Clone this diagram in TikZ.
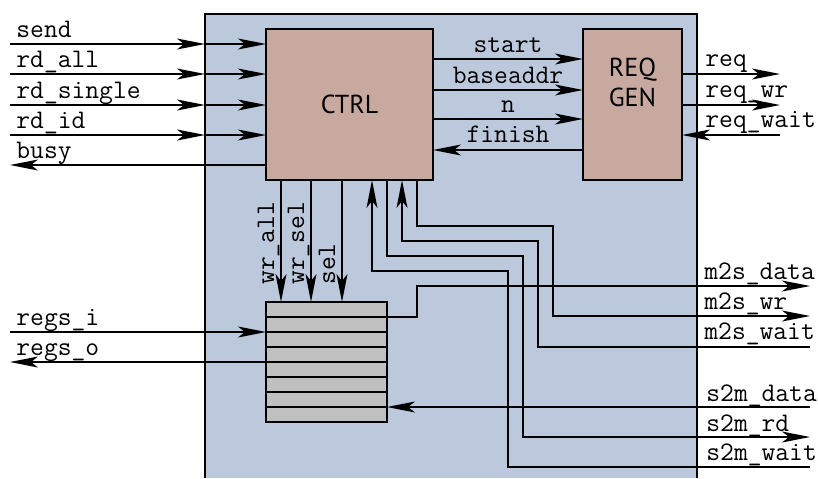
\documentclass[tikz,border=0pt]{standalone}
\usepackage{fontspec}
\newfontfamily\blockfont{PT Sans}
\usetikzlibrary{arrows.meta}
\definecolor{devblue}{RGB}{188,200,219}
\definecolor{blockbrown}{RGB}{200,169,160}
\definecolor{reggray}{RGB}{192,192,192}
\tikzset{
  wire/.style={line width=0.65pt},
  sig/.style={wire, -{Stealth[length=14pt,width=5.5pt,inset=3.5pt]}},
  lbl/.style={font=\fontsize{13.4}{15}\selectfont\ttfamily, inner sep=0pt, anchor=base west},
  midlbl/.style={lbl, anchor=base},
  blocktext/.style={font=\blockfont\fontsize{13}{15}\selectfont},
  block/.style={draw, line width=0.65pt, fill=blockbrown, inner sep=0pt, outer sep=0pt, blocktext},
  regfile/.style={draw, line width=0.65pt, fill=reggray, inner sep=0pt, outer sep=0pt},
}
\begin{document}
\begin{tikzpicture}[x=0.5pt,y=-0.5pt]
\useasboundingbox (0,0) rectangle (818,478);

% device outline (open at the bottom)
\fill[devblue] (205,14) rectangle (697,478);
\draw[wire] (205,478) -- (205,14) -- (697,14) -- (697,478);

% blocks
\node[block, minimum width=83.5pt, minimum height=75.5pt] (ctrl) at (349.5,104.5) {CTRL};
\node[block, minimum width=49.5pt, minimum height=75.5pt] (reqgen) at (632.5,104.5) {};
\node[blocktext, align=center, inner sep=0pt] (reqlbl) at (632.5,82) {REQ\\GEN};
\node[regfile, minimum width=60.5pt, minimum height=60pt] (regs) at (326.5,362) {};
\foreach \k in {1,...,7}
  \draw[wire] ([yshift=-\k*7.5pt]regs.north west) -- ([yshift=-\k*7.5pt]regs.north east);

% inputs on the left, passing the device border
\foreach \y/\t [count=\i] in {44/send, 74/rd\_all, 105/rd\_single, 135/rd\_id} {
  \coordinate (in\i) at (10,\y);
  \coordinate (edge\i) at (205,\y);
  \draw[sig] (in\i) -- (edge\i);
  \draw[sig] (edge\i) -- (edge\i -| ctrl.west);
  \node[lbl] at (16,\y-7) {\t};
}
\coordinate (busy) at (10,165);
\draw[sig] (busy -| ctrl.west) -- (busy);
\node[lbl] at (16,158) {busy};

% CTRL <-> REQ GEN
\foreach \y/\t [count=\i] in {59/start, 90/baseaddr, 119/n} {
  \coordinate (m\i) at (508,\y);
  \draw[sig] (m\i -| ctrl.east) -- (m\i -| reqgen.west);
  \node[midlbl] at (508,\y-7) {\t};
}
\coordinate (fin) at (508,150);
\draw[sig] (fin -| reqgen.west) -- (fin -| ctrl.east);
\node[midlbl] at (508,142) {finish};

% REQ GEN port
\coordinate (req) at (780,74);
\coordinate (reqwr) at (780,105);
\coordinate (reqwait) at (780,135);
\draw[sig] (req -| reqgen.east) -- (req);
\draw[sig] (reqwr -| reqgen.east) -- (reqwr);
\draw[sig] (reqwait) -- (reqwait -| reqgen.east);
\node[lbl] at (705,66) {req};
\node[lbl] at (705,97) {req\_wr};
\node[lbl] at (705,127) {req\_wait};

% CTRL -> register file
\foreach \x/\t [count=\i] in {281/wr\_all, 311/wr\_sel, 342/sel} {
  \coordinate (v\i) at (\x,240);
  \draw[sig] (v\i |- ctrl.south) -- (v\i |- regs.north);
  \node[lbl, rotate=90] at (\x-7,285) {\t};
}

% register file ports
\coordinate (regsi) at (10,332);
\coordinate (regso) at (10,362);
\draw[sig] (regsi) -- (regsi -| regs.west);
\draw[sig] (regso -| regs.west) -- (regso);
\node[lbl] at (16,325) {regs\_i};
\node[lbl] at (16,355) {regs\_o};

% memory bus ports
\coordinate (xa) at (372,0);
\coordinate (xb) at (387,0);
\coordinate (xc) at (402,0);
\coordinate (xd) at (417,0);
\coordinate (m2sdata) at (810,286);
\coordinate (m2swr) at (810,316);
\coordinate (m2swait) at (810,347);
\coordinate (s2mdata) at (810,407);
\coordinate (s2mrd) at (810,437);
\coordinate (s2mwait) at (810,467);
\coordinate (row1) at ([yshift=-7.5pt]regs.north east);

\draw[sig] (row1) -| (417,286) -- (m2sdata);
\draw[sig] (xd |- ctrl.south) |- (553,226) |- (m2swr);
\draw[sig] (m2swait) -| (538,241) -| (xc |- ctrl.south);
\draw[sig] (s2mdata) -- (regs.east |- s2mdata);
\draw[sig] (xb |- ctrl.south) |- (523,256) |- (s2mrd);
\draw[sig] (s2mwait) -| (508,271) -| (xa |- ctrl.south);

\node[lbl] at (704,279) {m2s\_data};
\node[lbl] at (704,309) {m2s\_wr};
\node[lbl] at (704,339) {m2s\_wait};
\node[lbl] at (706,401) {s2m\_data};
\node[lbl] at (706,431) {s2m\_rd};
\node[lbl] at (706,460) {s2m\_wait};
\end{tikzpicture}
\end{document}
